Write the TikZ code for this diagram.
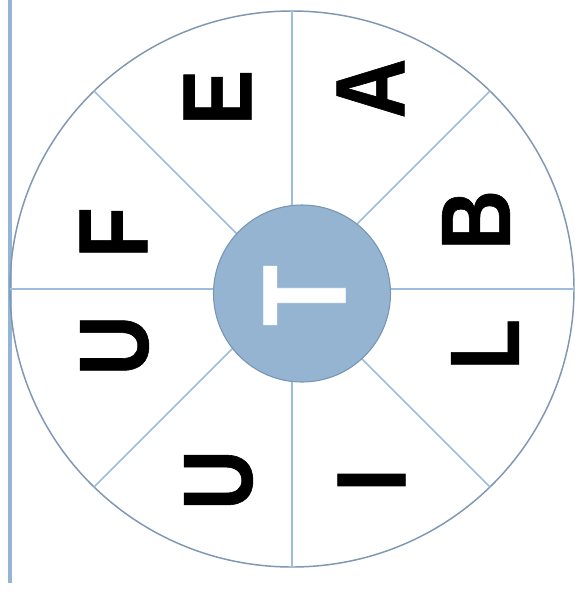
\documentclass[tikz,border=0pt]{standalone}
\usepackage{fontspec}
\newfontfamily\wheelfont{Liberation Sans}[FakeStretch=0.84,FakeBold=0.6]
\usetikzlibrary{shapes.geometric}

\definecolor{barblue}{HTML}{95B5D8}
\definecolor{rimgray}{HTML}{7F97B2}
\definecolor{spokeblue}{HTML}{9DBDDF}
\definecolor{hubblue}{HTML}{94B4D2}
\definecolor{hubrim}{HTML}{7895B3}

\begin{document}
\begin{tikzpicture}[
  x=0.75pt,y=-0.75pt,
  bar/.style={line width=2.4pt,barblue},
  rim/.style={ellipse,draw=rimgray,line width=1.1pt,inner sep=0pt,outer sep=0pt,
    minimum width=423pt,minimum height=417pt},
  spoke/.style={line width=1.1pt,spokeblue},
  hub/.style={circle,fill=hubblue,draw=hubrim,line width=0.8pt,inner sep=0pt,
    minimum size=132.75pt},
  letter/.style={font=\wheelfont\bfseries\fontsize{74}{74}\selectfont,
    rotate=90,inner sep=0pt}
]
  \useasboundingbox[fill=white] (0,0) rectangle (575,597);

  % Margin rule on the left.
  \coordinate (barTop) at (10,0);
  \coordinate (barEnd) at (10,583);
  \draw[bar] (barTop) -- (barEnd);

  % Outer wheel and its eight spokes.
  \node[rim] (wheel) at (292,289) {};
  \foreach \a in {0,45,...,315}
    \draw[spoke] (wheel.center) -- (wheel.\a);

  % Hub with the centre letter.
  \node[hub] (hub) at (302,293.5) {};
  \node[letter,white,font=\wheelfont\bfseries\fontsize{89}{89}\selectfont]
    (lT) at (304.5,295.5) {T};

  % Letters in the sectors.
  \node[letter] (lA)  at (370.5,88.5) {A};
  \node[letter] (lB)  at (476,220)    {B};
  \node[letter] (lL)  at (485,344.5)  {L};
  \node[letter] (lI)  at (371.5,480)  {I};
  \node[letter] (lU1) at (218.5,480)  {U};
  \node[letter] (lU2) at (114.5,345.5) {U};
  \node[letter] (lF)  at (113.5,232.5) {F};
  \node[letter] (lE)  at (217.5,97.5) {E};
\end{tikzpicture}
\end{document}
